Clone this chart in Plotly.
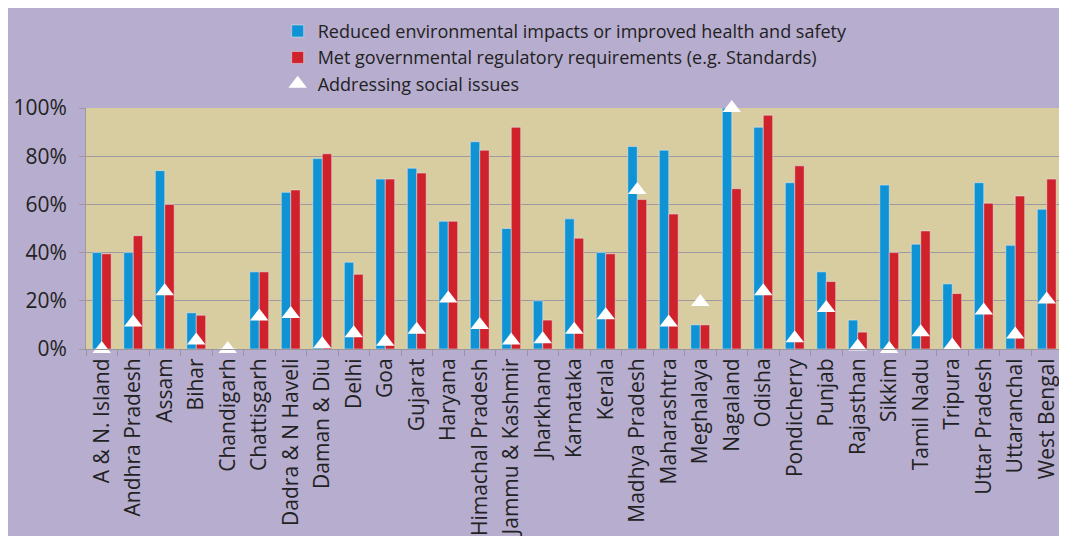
import plotly.graph_objects as go

states = [
    "A & N. Island", "Andhra Pradesh", "Assam", "Bihar", "Chandigarh",
    "Chattisgarh", "Dadra & N Haveli", "Daman & Diu", "Delhi", "Goa",
    "Gujarat", "Haryana", "Himachal Pradesh", "Jammu & Kashmir", "Jharkhand",
    "Karnataka", "Kerala", "Madhya Pradesh", "Maharashtra", "Meghalaya",
    "Nagaland", "Odisha", "Pondicherry", "Punjab", "Rajasthan",
    "Sikkim", "Tamil Nadu", "Tripura", "Uttar Pradesh", "Uttaranchal",
    "West Bengal",
]

reduced_impacts = [
    40, 40, 74, 15, 0, 32, 65, 79, 36, 70.5,
    75, 53, 86, 50, 20, 54, 40, 84, 82.5, 10,
    100, 92, 69, 32, 12, 68, 43.5, 27, 69, 43, 58,
]
met_regulatory = [
    39.5, 47, 60, 14, 0, 32, 66, 81, 31, 70.5,
    73, 53, 82.5, 92, 12, 46, 39.5, 62, 56, 10,
    66.5, 97, 76, 28, 7, 40, 49, 23, 60.5, 63.5, 70.5,
]
social_issues = [
    0, 11, 24, 3.5, 0, 13.5, 14.5, 2, 6.5, 3,
    8, 21, 10, 3.5, 4, 8, 14, 66, 11, 19.5,
    100, 24, 4.5, 17, 1, 0, 7, 1.5, 16, 6, 20.5,
]

fig = go.Figure()

fig.add_trace(
    go.Bar(
        x=states,
        y=reduced_impacts,
        name="Reduced environmental impacts or improved health and safety",
        marker=dict(color="#0f93d4"),
        legendgroup="a",
    )
)
fig.add_trace(
    go.Bar(
        x=states,
        y=met_regulatory,
        name="Met governmental regulatory requirements (e.g. Standards)",
        marker=dict(color="#d0222b"),
        legendgroup="b",
    )
)
fig.add_trace(
    go.Scatter(
        x=states,
        y=social_issues,
        mode="markers",
        name="Addressing social issues",
        marker=dict(symbol="triangle-up", size=16, color="white",
                    line=dict(width=0)),
        cliponaxis=False,
        legendgroup="c",
    )
)

# the page shows 1051x528 of the figure; the plot runs to its right edge
fig_w, fig_h = 1051, 528
cat_px = 31.5
plot_w = fig_w - 78
fig.update_layout(
    width=fig_w,
    height=fig_h,
    margin=dict(l=78, r=0, t=100, b=187),
    paper_bgcolor="#b7adcf",
    plot_bgcolor="#d8cda1",
    font=dict(family="Open Sans", color="#222222"),
    barmode="group",
    bargap=0.4,
    bargroupgap=0,
    showlegend=True,
    legend=dict(
        x=0.197,
        y=1.395,
        xanchor="left",
        yanchor="top",
        bgcolor="rgba(0,0,0,0)",
        font=dict(size=18, color="#222222"),
        tracegroupgap=0,
        itemwidth=30,
    ),
    xaxis=dict(
        type="category",
        range=[-0.5, -0.5 + plot_w / cat_px],
        tickangle=-90,
        tickfont=dict(size=21, color="#222222"),
        ticks="outside",
        tickson="boundaries",
        ticklen=6,
        tickcolor="#9a949c",
        showline=True,
        linecolor="#9a949c",
        showgrid=False,
    ),
    yaxis=dict(
        range=[0, 100],
        tickvals=[0, 20, 40, 60, 80, 100],
        ticktext=["0%", "20%", "40%", "60%", "80%", "100%"],
        tickfont=dict(size=21, color="#222222"),
        showgrid=True,
        gridcolor="#9e98a0",
        gridwidth=1,
        showline=True,
        linecolor="#9e98a0",
        ticks="outside",
        ticklen=6,
        tickcolor="#9e98a0",
        ticklabelstandoff=8,
        zeroline=False,
    ),
)

fig.write_html("out.html")
